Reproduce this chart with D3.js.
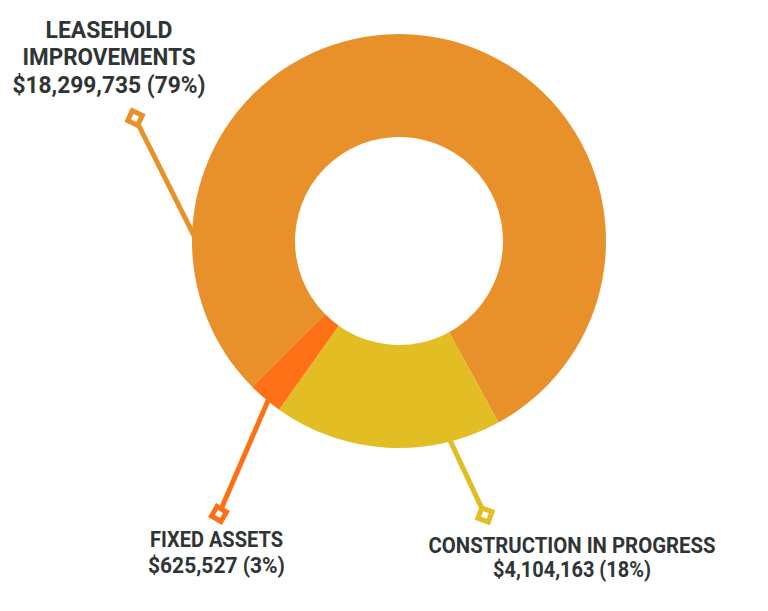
<!DOCTYPE html>
<html><head><meta charset="utf-8">
<script src="https://cdn.jsdelivr.net/npm/d3@7"></script>
<style>html,body{margin:0;padding:0;background:#fff;}svg{display:block;}</style>
</head><body>
<script>
// ---- data ----
const categories = ["Leasehold Improvements", "Construction in Progress", "Fixed Assets"];
const values = [18299735, 4104163, 625527];
const percentLabels = ["79%", "18%", "3%"];
const titleLines = [["LEASEHOLD", "IMPROVEMENTS"], ["CONSTRUCTION IN PROGRESS"], ["FIXED ASSETS"]];
const colors = ["#E8902A", "#E2BD24", "#FE7015"];

// ---- layout ----
const W = 768, H = 611;
const cx = 399, cy = 241, R = 207, r = 104;
const startDeg = 225.2;
// label layout: leader start angle (deg), marker position, text center, baselines, widths
const labelLayout = [
  {leaderDeg: 268, marker: [135, 118], rot: 25, tx: 109, base: [38, 65, 93], size: 24, widths: [127, 173, 193]},
  {leaderDeg: 166, marker: [485, 515], rot: 20, tx: 572, base: [553, 577], size: 22, widths: [287, 158]},
  {leaderDeg: 220, marker: [219, 514], rot: 30, tx: 216.5, base: [547, 573], size: 22, widths: [133, 137]}
];

const svg = d3.select("body").append("svg").attr("width", W).attr("height", H);

const pie = d3.pie().sort(null)
  .startAngle(startDeg * Math.PI / 180)
  .endAngle((startDeg + 360) * Math.PI / 180);
const arcs = pie(values);
const arc = d3.arc().innerRadius(r).outerRadius(R);

const fmt = d3.format("$,");

// leader lines (under donut)
const leaders = svg.append("g");
categories.forEach((c, i) => {
  const L = labelLayout[i];
  const a = L.leaderDeg * Math.PI / 180;
  const x0 = cx + (R - 8) * Math.sin(a), y0 = cy - (R - 8) * Math.cos(a);
  leaders.append("line")
    .attr("x1", x0).attr("y1", y0)
    .attr("x2", L.marker[0]).attr("y2", L.marker[1])
    .attr("stroke", colors[i]).attr("stroke-width", 5);
  leaders.append("rect")
    .attr("x", -5.5).attr("y", -5.5).attr("width", 11).attr("height", 11)
    .attr("fill", "#fff").attr("stroke", colors[i]).attr("stroke-width", 5)
    .attr("transform", `translate(${L.marker[0]},${L.marker[1]}) rotate(${L.rot})`);
});

// donut
svg.append("g").attr("transform", `translate(${cx},${cy})`)
  .selectAll("path").data(arcs).join("path")
  .attr("d", arc)
  .attr("fill", (d, i) => colors[i]);

// labels
const tg = svg.append("g")
  .attr("font-family", "Roboto, 'Liberation Sans', sans-serif")
  .attr("font-weight", 700)
  .attr("fill", "#2F3535")
  .attr("text-anchor", "middle");
categories.forEach((c, i) => {
  const L = labelLayout[i];
  const lines = titleLines[i].concat([fmt(values[i]) + " (" + percentLabels[i] + ")"]);
  lines.forEach((t, j) => {
    tg.append("text")
      .attr("x", L.tx).attr("y", L.base[j])
      .attr("font-size", L.size)
      .attr("textLength", L.widths[j])
      .attr("lengthAdjust", "spacingAndGlyphs")
      .text(t);
  });
});
</script>
</body></html>
